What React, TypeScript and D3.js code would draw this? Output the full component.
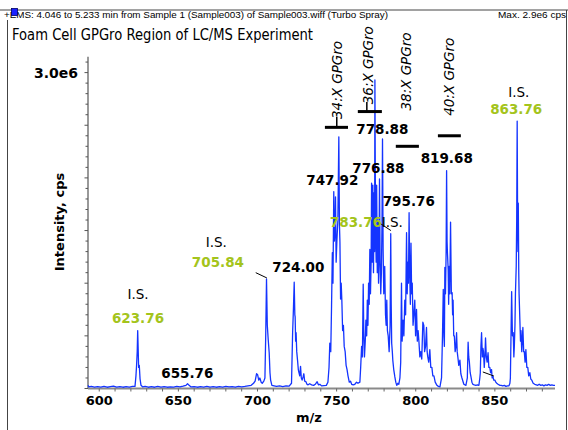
import React from "react";
import * as d3 from "d3";

// spectrum trace, [m/z, intensity in 1e6 cps]
const spectrum: [number, number][] = [
  [592.9, 0.03], [593.5, 0.015], [595, 0.02], [597, 0.012], [599, 0.018], [601, 0.013], [603, 0.02],
  [605, 0.012], [607, 0.017], [609, 0.022], [611, 0.013], [613, 0.018], [615, 0.012], [617, 0.017],
  [619, 0.014], [621, 0.02], [622.6, 0.02],
  [623.2, 0.12], [623.6, 0.22], [624.0, 0.35], [624.3, 0.55], [624.6, 0.38], [624.9, 0.2], [625.3, 0.22],
  [625.8, 0.09], [626.4, 0.03], [627.5, 0.015],
  [629, 0.02], [631, 0.012], [633, 0.017], [635, 0.012], [637, 0.02], [639, 0.014], [641, 0.018],
  [643, 0.012], [645, 0.016], [647, 0.014], [649, 0.02], [651, 0.015], [653, 0.022], [654.8, 0.03],
  [655.8, 0.045], [656.8, 0.03], [658, 0.015], [660, 0.018], [662, 0.012], [664, 0.017], [666, 0.013],
  [668, 0.02], [670, 0.014], [672, 0.018], [674, 0.012], [676, 0.017], [678, 0.014], [680, 0.02],
  [682, 0.015], [684, 0.018], [686, 0.012], [688, 0.02], [690, 0.016], [692, 0.02], [694, 0.025],
  [696, 0.03], [697.5, 0.05], [698.5, 0.07], [699.4, 0.14], [700.1, 0.13], [700.8, 0.08], [701.5, 0.1],
  [702.3, 0.06], [703, 0.05], [704, 0.07], [704.7, 0.1], [705.2, 0.5], [705.7, 1.04], [706.2, 0.6],
  [706.8, 0.46], [707.4, 0.34], [707.9, 0.15], [708.3, 0.08], [709.1, 0.03], [710.5, 0.025], [712, 0.02],
  [714, 0.025], [716, 0.018], [718, 0.024], [720, 0.022], [721.5, 0.05], [722.2, 0.53], [722.7, 0.75],
  [723.2, 1.01], [723.6, 0.7], [723.8, 0.68], [724.1, 0.45], [724.4, 0.53], [724.8, 0.35], [725.3, 0.27],
  [725.8, 0.18], [726.2, 0.15], [726.7, 0.12], [727.2, 0.21], [727.7, 0.1], [728.2, 0.08], [728.8, 0.11],
  [729.3, 0.14], [729.8, 0.07], [730.6, 0.065], [731.3, 0.04], [732, 0.035], [733, 0.045], [734.2, 0.035],
  [735.5, 0.03], [736.5, 0.04], [737.7, 0.065], [738.5, 0.035], [739.4, 0.04], [740.5, 0.025], [742, 0.028],
  [743.5, 0.03], [744.5, 0.06], [745.2, 0.2], [745.7, 0.43], [746.3, 0.35], [746.8, 0.78], [747.3, 1.29],
  [747.7, 1.0], [748.2, 1.87], [748.6, 1.4], [749.0, 1.5], [749.3, 1.82], [749.7, 1.2], [750.2, 1.41],
  [750.8, 1.6], [751.4, 2.39], [751.8, 1.55], [752.1, 1.39], [752.5, 0.85], [752.9, 1.0], [753.3, 0.84],
  [753.8, 0.55], [754.3, 0.6], [754.8, 0.4], [755.4, 0.35], [756, 0.22], [756.6, 0.18], [757.2, 0.12],
  [758, 0.06], [758.8, 0.07], [759.5, 0.04], [760.5, 0.035], [761.5, 0.04], [762.6, 0.06], [763.5, 0.05],
  [764.7, 0.06], [765.2, 0.2], [765.8, 0.4], [766.3, 0.3], [766.8, 0.99], [767.2, 0.5], [767.6, 0.3],
  [768.1, 0.45], [768.5, 0.65], [769, 0.5], [769.4, 0.84], [769.8, 0.6], [770.2, 1.0], [770.6, 0.8],
  [771.0, 1.32], [771.4, 0.9], [771.8, 1.2], [772.1, 1.95], [772.5, 1.2], [772.9, 1.93], [773.3, 1.1],
  [773.7, 1.86], [774.0, 1.3], [774.2, 2.93], [774.6, 1.5], [775.0, 1.2], [775.3, 1.93], [775.7, 1.1],
  [776.1, 1.6], [776.5, 1.0], [776.8, 1.25], [777.1, 1.99], [777.5, 1.2], [777.9, 0.9], [778.3, 1.1],
  [778.7, 1.6], [779.0, 2.37], [779.4, 1.3], [779.8, 0.9], [780.4, 1.16], [780.9, 0.7], [781.3, 0.6],
  [781.7, 0.84], [782.1, 0.55], [782.6, 0.5], [783.2, 0.35], [783.8, 0.6], [784.2, 1.47], [784.5, 0.8],
  [784.8, 0.43], [785.2, 0.35], [785.5, 0.27], [786.1, 0.18], [786.8, 0.11], [787.4, 0.06], [788, 0.03],
  [788.7, 0.05], [789.3, 0.04], [790, 0.1], [790.5, 0.25], [791.0, 1.0], [791.4, 0.45], [792, 0.65],
  [792.5, 0.5], [793.1, 0.84], [793.6, 0.7], [794.2, 1.48], [794.6, 0.9], [795.0, 1.2], [795.4, 1.0],
  [795.8, 1.67], [796.2, 1.1], [796.6, 0.8], [797.0, 1.38], [797.4, 0.9], [797.8, 1.0], [798.3, 0.6],
  [798.8, 0.7], [799.4, 0.84], [799.9, 0.5], [800.5, 0.75], [801, 0.45], [801.5, 0.55], [802, 0.45],
  [802.6, 0.3], [803.2, 0.35], [803.8, 0.28], [804.5, 0.63], [805.1, 0.6], [805.6, 0.35], [806.2, 0.4],
  [806.8, 0.58], [807.2, 0.35], [807.6, 0.3], [808.2, 0.25], [808.9, 0.37], [809.5, 0.2], [810.2, 0.2],
  [810.8, 0.12], [811.5, 0.12], [812.3, 0.06], [813.4, 0.03], [814.3, 0.02], [815.3, 0.015], [816.3, 0.1],
  [816.9, 0.5], [817.4, 0.94], [817.8, 0.5], [818.1, 0.4], [818.4, 1.15], [818.8, 0.9], [819.2, 1.3],
  [819.5, 2.07], [819.8, 1.4], [820.0, 1.3], [820.5, 1.13], [820.8, 0.8], [821.1, 1.16], [821.5, 0.9],
  [822.0, 1.58], [822.5, 0.9], [823.0, 0.91], [823.3, 0.7], [823.6, 0.84], [824.0, 0.5], [824.4, 0.5],
  [824.9, 0.35], [825.4, 0.4], [825.8, 0.53], [826.2, 0.35], [826.6, 0.3], [827.2, 0.22], [827.9, 0.27],
  [828.5, 0.14], [829.2, 0.1], [830.4, 0.04], [831.7, 0.03], [832.6, 0.1], [833.1, 0.44], [833.5, 0.3],
  [833.9, 0.25], [834.4, 0.15], [834.8, 0.12], [835.5, 0.06], [836.1, 0.04], [837, 0.035], [838, 0.03],
  [839, 0.035], [839.9, 0.03], [840.5, 0.1], [840.8, 0.15], [841.2, 0.4], [841.6, 0.53], [842.1, 0.3],
  [842.5, 0.38], [842.8, 0.35], [843.3, 0.2], [843.7, 0.3], [844.1, 0.48], [844.6, 0.3], [845.1, 0.25],
  [845.7, 0.34], [846.2, 0.2], [846.8, 0.2], [847.3, 0.15], [847.9, 0.18], [848.3, 0.1], [848.7, 0.12],
  [849.3, 0.08], [850, 0.08], [850.6, 0.06], [851.2, 0.05], [852, 0.04], [853.2, 0.03], [854, 0.03],
  [855, 0.025], [856, 0.03], [857, 0.02], [858, 0.025], [858.9, 0.025], [859.5, 0.05], [859.8, 0.1],
  [860.2, 0.5], [860.6, 0.92], [861.1, 0.5], [861.6, 0.53], [862.0, 0.3], [862.3, 0.4], [862.7, 0.6],
  [863.0, 0.9], [863.5, 1.16], [863.8, 1.6], [864.1, 2.54], [864.4, 1.5], [864.6, 1.3], [864.8, 1.76],
  [865.1, 1.1], [865.3, 0.9], [865.8, 0.65], [866.2, 0.45], [866.5, 0.55], [867.0, 0.35], [867.3, 0.45],
  [867.7, 0.58], [868.2, 0.35], [868.6, 0.35], [869.1, 0.25], [869.6, 0.37], [870.2, 0.2], [870.8, 0.2],
  [871.4, 0.12], [872.1, 0.15], [872.7, 0.09], [873.3, 0.08], [874.2, 0.05], [875.2, 0.04], [876.2, 0.035],
  [877.1, 0.03], [878, 0.04], [879, 0.03], [880, 0.035], [881, 0.025], [882, 0.035], [883, 0.03],
  [884, 0.04], [885, 0.03], [886, 0.035], [887, 0.03], [888, 0.03],
];

// peak labels: text centred at m/z, baseline at intensity
const peakLabels = [
  { text: "I.S.", mz: 624.5, level: 0.85, kind: "is" },
  { text: "623.76", mz: 624.5, level: 0.62, kind: "green" },
  { text: "655.76", mz: 655.7, level: 0.1, kind: "black" },
  { text: "I.S.", mz: 674.0, level: 1.34, kind: "is" },
  { text: "705.84", mz: 675.0, level: 1.15, kind: "green" },
  { text: "724.00", mz: 725.8, level: 1.106, kind: "black" },
  { text: "747.92", mz: 747.3, level: 1.93, kind: "black" },
  { text: "776.88", mz: 776.4, level: 2.05, kind: "black" },
  { text: "778.88", mz: 778.9, level: 2.42, kind: "black" },
  { text: "795.76", mz: 795.6, level: 1.73, kind: "black" },
  { text: "819.68", mz: 819.6, level: 2.14, kind: "black" },
  { text: "I.S.", mz: 865.1, level: 2.77, kind: "is" },
  { text: "863.76", mz: 863.5, level: 2.61, kind: "green" },
  { text: "783.76", mz: 762.2, level: 1.53, kind: "green" },
  { text: "I.S.", mz: 785.2, level: 1.53, kind: "is" },
];

// lipid class labels (vertical) and their bars
const classNames = ["34:X GPGro", "36:X GPGro", "38:X GPGro", "40:X GPGro"];
const classCenterMz = [750.2, 770.1, 794.1, 821.2];
const classCenterLevel = [2.93, 3.07, 3.01, 2.96];
const classBarFrom = [742.6, 763.4, 787.4, 814.0];
const classBarTo = [757.2, 778.6, 802.0, 828.5];
const classBarLevel = [2.48, 2.63, 2.3, 2.4];

// short vertical stems between bar and label
const stems = [
  { mz: 750.1, from: 2.48, to: 2.58 },
  { mz: 769.1, from: 2.63, to: 2.72 },
];

// leader lines
const leaders = [
  { mz0: 698.9, l0: 1.1, mz1: 705.9, l1: 1.05 },
  { mz0: 777.3, l0: 1.57, mz1: 784.3, l1: 1.5 },
  { mz0: 842.4, l0: 0.157, mz1: 849.3, l1: 0.119 },
];

const xTickLabels = [600, 650, 700, 750, 800, 850];
const yTickLabel = 3.0;

const FONT = "'Comic Sans MS', 'DejaVu Sans', sans-serif";
const BLUE = "#1434ff";
const GREEN = "#a4c41c";

export default function App() {
  const W = 568;
  const H = 430;
  const x = d3.scaleLinear().domain([592.9, 888]).range([88, 555]);
  const y = d3.scaleLinear().domain([0, 3.15]).range([388.5, 56.8]);
  const line = d3.line<[number, number]>().x(d => x(d[0])).y(d => y(d[1]));

  const yMinor = d3.range(0, 3.15, 0.1);
  const xMinor = d3.range(600, 888, 10);

  return (
    <svg width={W} height={H} style={{ position: "absolute", left: 0, top: 0, background: "#fff" }}
      fontFamily={FONT}>
      <rect x={0} y={0} width={W} height={H} fill="#fff" />
      {/* window frame */}
      <line x1={0} y1={10} x2={W} y2={10} stroke="#444" strokeWidth={1} />
      <line x1={7.5} y1={20} x2={7.5} y2={H} stroke="#444" strokeWidth={1} />
      <line x1={566.5} y1={10} x2={566.5} y2={H} stroke="#444" strokeWidth={1} />

      {/* header */}
      <text x={4} y={18} fontSize={9.5} fontFamily="'Liberation Sans', sans-serif" textLength={384}
        lengthAdjust="spacingAndGlyphs">+EMS: 4.046 to 5.233 min from Sample 1 (Sample003) of Sample003.wiff (Turbo Spray)</text>
      <rect x={11.5} y={8.5} width={6} height={7} fill="#1a22ff" stroke="#000066" strokeWidth={0.8} />
      <text x={566} y={18} fontSize={9.5} textAnchor="end" fontFamily="'Liberation Sans', sans-serif"
        textLength={68} lengthAdjust="spacingAndGlyphs">Max. 2.9e6 cps</text>

      <text x={12} y={40} fontSize={15} textLength={301} lengthAdjust="spacingAndGlyphs">
        Foam Cell GPGro Region of LC/MS Experiment
      </text>

      {/* y axis */}
      <line x1={x.range()[0]} y1={y(0)} x2={x.range()[0]} y2={y.range()[1]} stroke="#555" strokeWidth={1.2} />
      {yMinor.map((v, i) => (
        <line key={i} x1={x.range()[0] - (i % 5 === 0 ? 3.5 : 2.5)} x2={x.range()[0]} y1={y(v)} y2={y(v)}
          stroke="#555" strokeWidth={1} />
      ))}
      <text x={78} y={y(yTickLabel) + 5} fontSize={14} fontWeight="bold" textAnchor="end">3.0e6</text>
      <text transform={`translate(64,222) rotate(-90)`} fontSize={13} fontWeight="bold" textAnchor="middle">
        Intensity, cps
      </text>

      {/* x axis */}
      <line x1={x.range()[0]} x2={x.range()[1]} y1={y(0)} y2={y(0)} stroke="#8a8a8a" strokeWidth={2} />
      {xMinor.map(v => (
        <line key={v} x1={x(v)} x2={x(v)} y1={y(0)} y2={y(0) + 3} stroke="#666" strokeWidth={1} />
      ))}
      {xTickLabels.map(v => (
        <text key={v} x={x(v)} y={405} fontSize={13} fontWeight="bold" textAnchor="middle">{v}</text>
      ))}
      <text x={309} y={422} fontSize={13} fontWeight="bold" textAnchor="middle">m/z</text>

      {/* spectrum */}
      <path d={line(spectrum) || ""} fill="none" stroke={BLUE} strokeWidth={1.3} strokeLinejoin="round" />

      {/* annotations */}
      {leaders.map((d, i) => (
        <line key={i} x1={x(d.mz0)} y1={y(d.l0)} x2={x(d.mz1)} y2={y(d.l1)} stroke="#000" strokeWidth={1} />
      ))}
      {classNames.map((name, i) => (
        <g key={name}>
          <line x1={x(classBarFrom[i])} x2={x(classBarTo[i])} y1={y(classBarLevel[i])} y2={y(classBarLevel[i])}
            stroke="#000" strokeWidth={3} />
          <text transform={`translate(${x(classCenterMz[i])},${y(classCenterLevel[i])}) rotate(-90)`}
            fontSize={13.5} fontStyle="italic" textAnchor="middle" dominantBaseline="central">{name}</text>
        </g>
      ))}
      {stems.map((s, i) => (
        <line key={i} x1={x(s.mz)} x2={x(s.mz)} y1={y(s.from)} y2={y(s.to)} stroke="#000" strokeWidth={1.5} />
      ))}
      {peakLabels.map((p, i) => (
        <text key={i} x={x(p.mz)} y={y(p.level)} textAnchor="middle"
          fontSize={p.kind === "is" ? 13.5 : 13.5} fontWeight={p.kind === "is" ? "normal" : "bold"}
          fill={p.kind === "green" ? GREEN : "#000"}>{p.text}</text>
      ))}
    </svg>
  );
}
